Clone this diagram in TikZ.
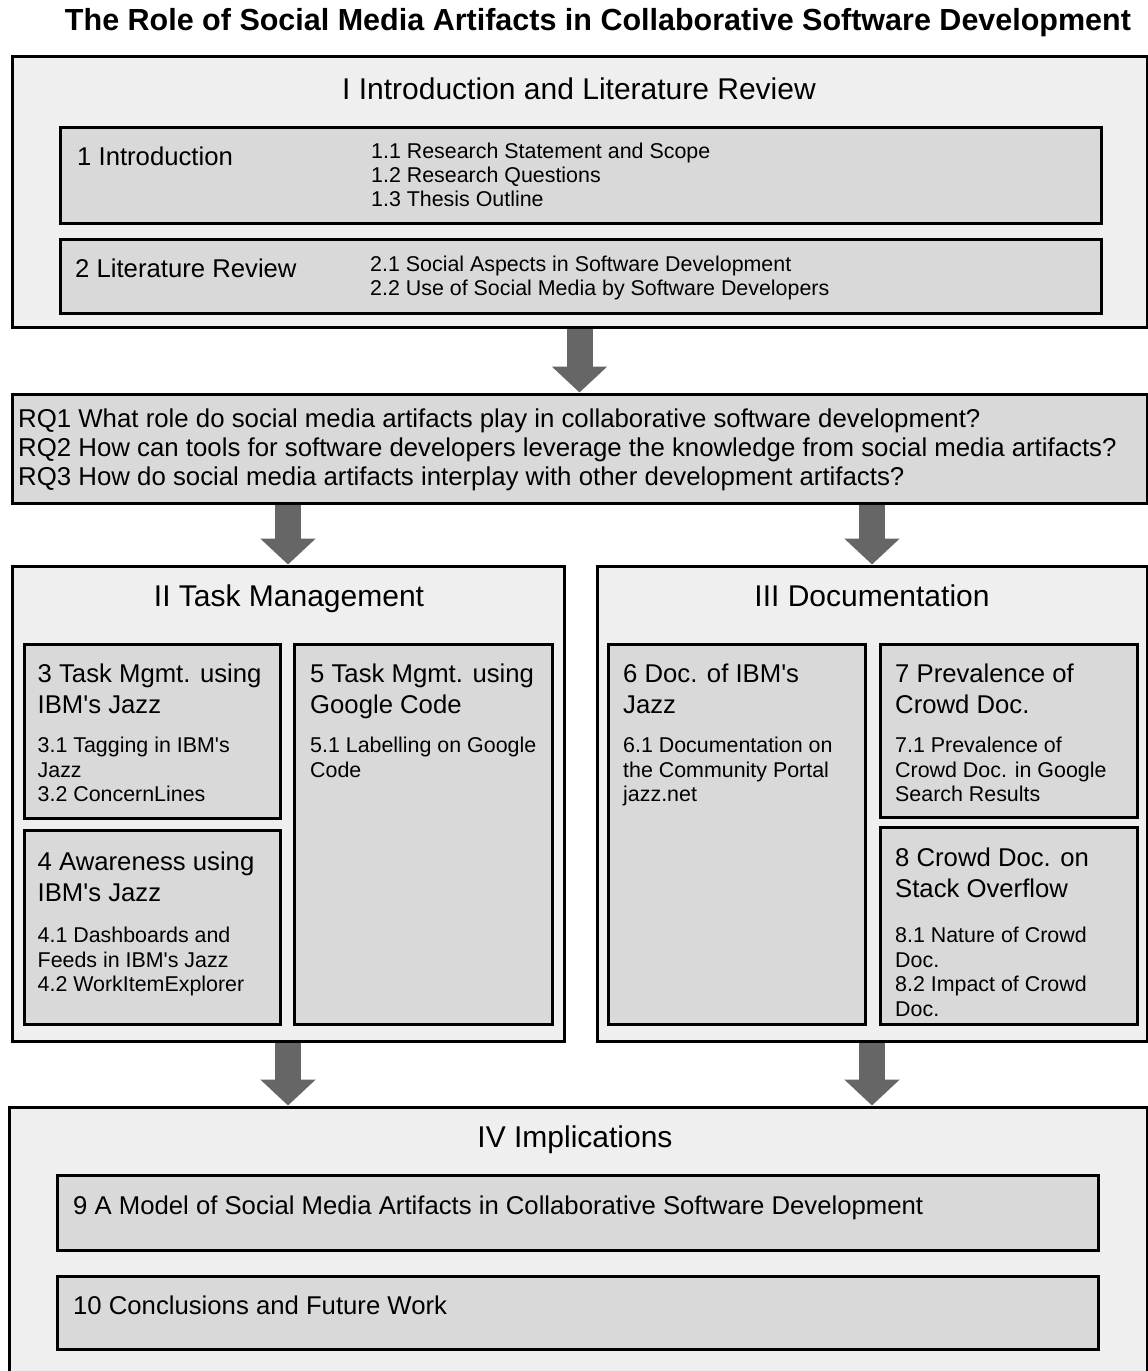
\documentclass[tikz,border=0pt]{standalone}
\usepackage{fontspec}
\setmainfont{Liberation Sans}
\usetikzlibrary{arrows.meta,fit,backgrounds}
\definecolor{outerfill}{HTML}{EFEFEF}
\definecolor{innerfill}{HTML}{D9D9D9}
\definecolor{arrowgray}{HTML}{666666}
\newcommand\ftitle{\fontsize{30.5}{34}\selectfont\bfseries}
\newcommand\fsect{\fontsize{30}{34}\selectfont}
\newcommand\fhd{\fontsize{25.7}{31}\selectfont}
\newcommand\fsub{\fontsize{21.4}{24.5}\selectfont}
\newcommand\fsubi{\fontsize{21.4}{24}\selectfont}
\newcommand\frq{\fontsize{25.8}{29}\selectfont}
\newcommand\aps{\textquotesingle}
\begin{document}
\begin{tikzpicture}[x=1pt,y=-1pt,
  outerbox/.style={draw=black,line width=3pt,fill=outerfill,inner sep=0pt},
  innerbox/.style={draw=black,line width=3pt,fill=innerfill,inner sep=0pt},
  txt/.style={inner sep=0pt,align=left,text=black},
  bigarrow/.style={draw=arrowgray,line width=26pt,-{Triangle[width=54pt,length=26pt]}}]
\useasboundingbox (0,0) rectangle (1148,1371);
\clip (0,0) rectangle (1148,1371);
% title
\node[txt,anchor=base,font=\ftitle] (title) at (598,30.9) {The Role of Social Media Artifacts in Collaborative Software Development};
% Part I
\node[outerbox,fit={(12,56) (1147,327)}] (boxI) {};
\node[innerbox,fit={(60,127) (1101,223)}] (b1) {};
\node[innerbox,fit={(60,239) (1101,313)}] (b2) {};
\node[txt,anchor=base,font=\fsect] (tI) at (579,99.5) {I Introduction and Literature Review};
\node[txt,anchor=base west,font=\fhd] (t1) at (77,165.2) {1 Introduction};
\node[txt,anchor=north west,font=\fsubi] (s1) at (371,141.9) {\strut 1.1 Research Statement and Scope\\ 1.2 Research Questions\\ 1.3 Thesis Outline};
\node[txt,anchor=base west,font=\fhd] (t2) at (75,277.2) {2 Literature Review};
\node[txt,anchor=north west,font=\fsubi] (s2) at (370,254.9) {\strut 2.1 Social Aspects in Software Development\\ 2.2 Use of Social Media by Software Developers};
% RQ box
\node[innerbox,fit={(12,394) (1147,503)}] (rq) {};
\node[txt,anchor=north west,font=\frq] (trq) at (18,406.9) {\strut RQ1 What role do social media artifacts play in collaborative software development?\\ RQ2 How can tools for software developers leverage the knowledge from social media artifacts?\\ RQ3 How do social media artifacts interplay with other development artifacts?};
% Part II
\node[outerbox,fit={(12,566) (564,1041)}] (boxII) {};
\node[txt,anchor=base,font=\fsect] (tII) at (289,606) {II Task Management};
\node[innerbox,fit={(24,644) (280,818)}] (b3) {};
\node[innerbox,fit={(24,830) (280,1024)}] (b4) {};
\node[innerbox,fit={(294,644) (552,1024)}] (b5) {};
\node[txt,anchor=north west,font=\fhd] (h3) at (37.5,660.5) {\strut 3 Task Mgmt. using\\ IBM\aps s Jazz};
\node[txt,anchor=north west,font=\fsub] (s3) at (37.5,735.55) {\strut 3.1 Tagging in IBM\aps s\\ Jazz\\ 3.2 ConcernLines};
\node[txt,anchor=north west,font=\fhd] (h4) at (37.5,848.5) {\strut 4 Awareness using\\ IBM\aps s Jazz};
\node[txt,anchor=north west,font=\fsub] (s4) at (37.5,925.55) {\strut 4.1 Dashboards and\\ Feeds in IBM\aps s Jazz\\ 4.2 WorkItemExplorer};
\node[txt,anchor=north west,font=\fhd] (h5) at (310,660.5) {\strut 5 Task Mgmt. using\\ Google Code};
\node[txt,anchor=north west,font=\fsub] (s5) at (310,735.55) {\strut 5.1 Labelling on Google\\ Code};
% Part III
\node[outerbox,fit={(597,566) (1147,1041)}] (boxIII) {};
\node[txt,anchor=base,font=\fsect] (tIII) at (872,606) {III Documentation};
\node[innerbox,fit={(608,644) (865,1024)}] (b6) {};
\node[innerbox,fit={(880,644) (1137,817)}] (b7) {};
\node[innerbox,fit={(880,827) (1137,1024)}] (b8) {};
\node[txt,anchor=north west,font=\fhd] (h6) at (623,660.5) {\strut 6 Doc. of IBM\aps s\\ Jazz};
\node[txt,anchor=north west,font=\fsub] (s6) at (623,735.55) {\strut 6.1 Documentation on\\ the Community Portal\\ jazz.net};
\node[txt,anchor=north west,font=\fhd] (h7) at (895,660.5) {\strut 7 Prevalence of\\ Crowd Doc.};
\node[txt,anchor=north west,font=\fsub] (s7) at (895,735.55) {\strut 7.1 Prevalence of\\ Crowd Doc. in Google\\ Search Results};
\node[txt,anchor=north west,font=\fhd] (h8) at (895,844.5) {\strut 8 Crowd Doc. on\\ Stack Overflow};
\node[txt,anchor=north west,font=\fsub] (s8) at (895,925.55) {\strut 8.1 Nature of Crowd\\ Doc.\\ 8.2 Impact of Crowd\\ Doc.};
% Part IV
\node[outerbox,fit={(9,1107) (1147,1400)}] (boxIV) {};
\node[txt,anchor=base,font=\fsect] (tIV) at (575,1147.5) {IV Implications};
\node[innerbox,fit={(57,1175) (1098,1250)}] (b9) {};
\node[innerbox,fit={(57,1276) (1098,1349)}] (b10) {};
\node[txt,anchor=base west,font=\fhd] (t9) at (73,1214.2) {9 A Model of Social Media Artifacts in Collaborative Software Development};
\node[txt,anchor=base west,font=\fhd] (t10) at (73,1314.2) {10 Conclusions and Future Work};
% arrows
\begin{scope}[on background layer]
\draw[bigarrow] (boxI.south) -- (rq.north);
\draw[bigarrow] (rq.south -| boxII.north) -- (boxII.north);
\draw[bigarrow] (rq.south -| boxIII.north) -- (boxIII.north);
\draw[bigarrow] (boxII.south) -- (boxIV.north -| boxII.south);
\draw[bigarrow] (boxIII.south) -- (boxIV.north -| boxIII.south);
\end{scope}
\end{tikzpicture}
\end{document}
